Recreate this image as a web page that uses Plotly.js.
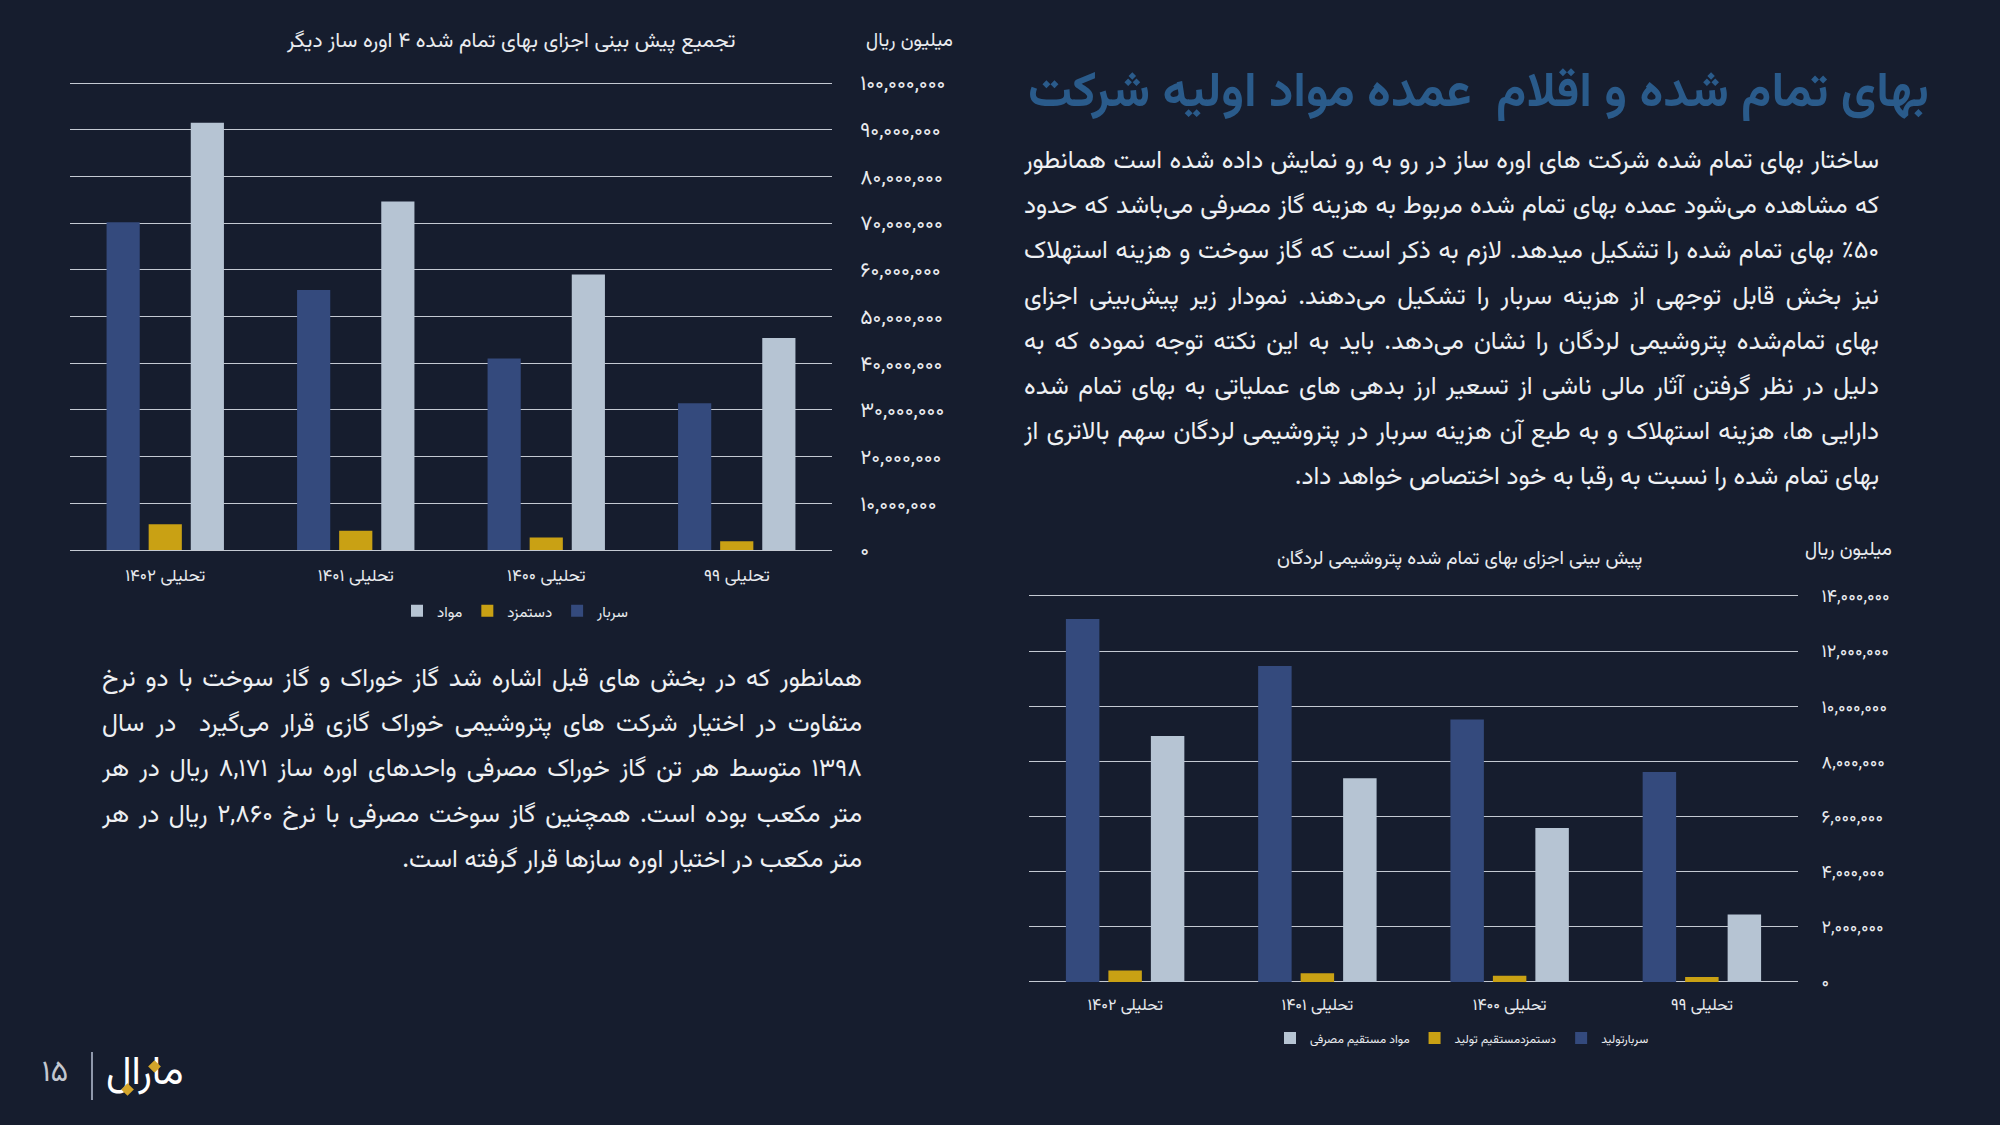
<!DOCTYPE html>
<html lang="fa">
<head>
<meta charset="utf-8">
<script src="https://cdn.plot.ly/plotly-3.0.1.min.js"></script>
<style>
  html, body { margin:0; padding:0; }
  body { width:2000px; height:1125px; overflow:hidden; background:#161d2e; position:relative;
         font-family: Vazirmatn, "Noto Sans Arabic", "DejaVu Sans", sans-serif; color:#eef0f3; }
  #plot { position:absolute; left:0; top:0; width:2000px; height:1125px; }
  .heading { position:absolute; right:71px; top:66px; font-size:49px; font-weight:bold; color:#2a5b8b;
             direction:rtl; white-space:nowrap; line-height:56px; }
  .para { position:absolute; direction:rtl; font-size:25px; color:#eef0f3; }
  .para div { height:45.2px; line-height:45.2px; white-space:nowrap; text-align:justify; text-align-last:justify; }
  .para div.last { text-align:right; text-align-last:right; }
  .pnum { position:absolute; left:28px; top:1055px; width:54px; text-align:center; font-size:30px; color:#c3c7cf; line-height:38px; }
  .vline { position:absolute; left:91px; top:1052px; width:2px; height:48px; background:#8f98ab; }
  .logo { position:absolute; left:106px; top:1048px; font-size:40px; color:#ffffff; line-height:52px; direction:rtl; white-space:nowrap; }
  .dia { position:absolute; width:9px; height:9px; background:#d4a52a; transform:rotate(45deg); }
</style>
</head>
<body>
<div id="plot"></div>

<div class="heading">بهای تمام شده و اقلام&nbsp; عمده مواد اولیه شرکت</div>

<div class="para" style="left:1024px; width:855px; top:139px;">
  <div>ساختار بهای تمام شده شرکت های اوره ساز در رو به رو نمایش داده شده است همانطور</div>
  <div>که مشاهده می‌شود عمده بهای تمام شده مربوط به هزینه گاز مصرفی می‌باشد که حدود</div>
  <div>٪۵۰ بهای تمام شده را تشکیل میدهد. لازم به ذکر است که گاز سوخت و هزینه استهلاک</div>
  <div>نیز بخش قابل توجهی از هزینه سربار را تشکیل می‌دهند. نمودار زیر پیش‌بینی اجزای</div>
  <div>بهای تمام‌شده پتروشیمی لردگان را نشان می‌دهد. باید به این نکته توجه نموده که به</div>
  <div>دلیل در نظر گرفتن آثار مالی ناشی از تسعیر ارز بدهی های عملیاتی به بهای تمام شده</div>
  <div>دارایی ها، هزینه استهلاک و به طبع آن هزینه سربار در پتروشیمی لردگان سهم بالاتری از</div>
  <div class="last">بهای تمام شده را نسبت به رقبا به خود اختصاص خواهد داد.</div>
</div>

<div class="para" style="left:102px; width:760px; top:657px;">
  <div>همانطور که در بخش های قبل اشاره شد گاز خوراک و گاز سوخت با دو نرخ</div>
  <div>متفاوت در اختیار شرکت های پتروشیمی خوراک گازی قرار می‌گیرد&nbsp; در سال</div>
  <div>۱۳۹۸ متوسط هر تن گاز خوراک مصرفی واحدهای اوره ساز ۸,۱۷۱ ریال در هر</div>
  <div>متر مکعب بوده است. همچنین گاز سوخت مصرفی با نرخ ۲,۸۶۰ ریال در هر</div>
  <div class="last">متر مکعب در اختیار اوره سازها قرار گرفته است.</div>
</div>

<div class="pnum">۱۵</div>
<div class="vline"></div>
<div class="logo">مارال</div>
<div class="dia" style="left:150px; top:1062px;"></div>
<div class="dia" style="left:123px; top:1085px;"></div>

<script>
// ---- data ----
const categories = ['تحلیلی ۱۴۰۲', 'تحلیلی ۱۴۰۱', 'تحلیلی ۱۴۰۰', 'تحلیلی ۹۹'];

const ureaSeriesNames = ['سربار', 'دستمزد', 'مواد'];
const ureaOverhead  = [70.2e6, 55.7e6, 41.0e6, 31.4e6];
const ureaLabor     = [5.5e6, 4.1e6, 2.7e6, 1.9e6];
const ureaMaterials = [91.5e6, 74.6e6, 59.0e6, 45.4e6];

const lordSeriesNames = ['سربارتولید', 'دستمزدمستقیم تولید', 'مواد مستقیم مصرفی'];
const lordOverhead  = [13.17e6, 11.46e6, 9.52e6, 7.62e6];
const lordLabor     = [0.42e6, 0.32e6, 0.23e6, 0.18e6];
const lordMaterials = [8.92e6, 7.39e6, 5.59e6, 2.45e6];

const ureaTickVals = [0, 10e6, 20e6, 30e6, 40e6, 50e6, 60e6, 70e6, 80e6, 90e6, 100e6];
const ureaTickText = ['۰', '۱۰,۰۰۰,۰۰۰', '۲۰,۰۰۰,۰۰۰', '۳۰,۰۰۰,۰۰۰', '۴۰,۰۰۰,۰۰۰', '۵۰,۰۰۰,۰۰۰',
                      '۶۰,۰۰۰,۰۰۰', '۷۰,۰۰۰,۰۰۰', '۸۰,۰۰۰,۰۰۰', '۹۰,۰۰۰,۰۰۰', '۱۰۰,۰۰۰,۰۰۰'];
const lordTickVals = [0, 2e6, 4e6, 6e6, 8e6, 10e6, 12e6, 14e6];
const lordTickText = ['۰', '۲,۰۰۰,۰۰۰', '۴,۰۰۰,۰۰۰', '۶,۰۰۰,۰۰۰', '۸,۰۰۰,۰۰۰', '۱۰,۰۰۰,۰۰۰', '۱۲,۰۰۰,۰۰۰', '۱۴,۰۰۰,۰۰۰'];

const chart1Title = 'تجمیع پیش بینی اجزای بهای تمام شده ۴ اوره ساز دیگر';
const chart2Title = 'پیش بینی اجزای بهای تمام شده پتروشیمی لردگان';
const unitLabel = 'میلیون ریال';

// ---- style ----
const FONT = 'Vazirmatn, "Noto Sans Arabic", "DejaVu Sans", sans-serif';
const C_OVER = '#344a7d', C_LAB = '#c9a114', C_MAT = '#b6c4d3';
const TXT = '#e9ebef', GRID = '#c4c9d2';
const W = 2000, H = 1125;
const px = v => v / W, py = v => 1 - v / H;

const traces = [
  {type:'bar', x:categories, y:ureaOverhead,  name:ureaSeriesNames[0], marker:{color:C_OVER}, xaxis:'x',  yaxis:'y',  legend:'legend'},
  {type:'bar', x:categories, y:ureaLabor,     name:ureaSeriesNames[1], marker:{color:C_LAB},  xaxis:'x',  yaxis:'y',  legend:'legend'},
  {type:'bar', x:categories, y:ureaMaterials, name:ureaSeriesNames[2], marker:{color:C_MAT},  xaxis:'x',  yaxis:'y',  legend:'legend'},
  {type:'bar', x:categories, y:lordOverhead,  name:lordSeriesNames[0], marker:{color:C_OVER}, xaxis:'x2', yaxis:'y2', legend:'legend2'},
  {type:'bar', x:categories, y:lordLabor,     name:lordSeriesNames[1], marker:{color:C_LAB},  xaxis:'x2', yaxis:'y2', legend:'legend2'},
  {type:'bar', x:categories, y:lordMaterials, name:lordSeriesNames[2], marker:{color:C_MAT},  xaxis:'x2', yaxis:'y2', legend:'legend2'}
].map(t => Object.assign(t, {hoverinfo:'skip'}));

const xCommon = {type:'category', showgrid:false, showline:false, zeroline:false, ticks:'outside',
                 tickcolor:'rgba(0,0,0,0)', fixedrange:true};
const yCommon = {side:'right', showline:false, showgrid:true, gridcolor:GRID, gridwidth:1,
                 zeroline:true, zerolinecolor:GRID, zerolinewidth:1, tickmode:'array',
                 ticks:'outside', tickcolor:'rgba(0,0,0,0)', fixedrange:true};

// ranges padded a hair above the top tick so the top gridline is drawn
const y1Max = 100.4e6, y2Max = 14.06e6;
const y1Top = 550 - 467 * (y1Max / 100e6);
const y2Top = 982 - 386 * (y2Max / 14e6);

const layout = {
  width:W, height:H, margin:{l:0, r:0, t:0, b:0},
  paper_bgcolor:'rgba(0,0,0,0)', plot_bgcolor:'rgba(0,0,0,0)',
  font:{family:FONT, color:TXT},
  barmode:'group', bargap:0.337, bargroupgap:0.212,
  showlegend:true,
  xaxis: Object.assign({}, xCommon, {domain:[px(70), px(832)], anchor:'y', ticklen:10, tickfont:{size:17, color:TXT}}),
  yaxis: Object.assign({}, yCommon, {domain:[py(550), py(y1Top)], anchor:'x', range:[0, y1Max],
           tickvals:ureaTickVals, ticktext:ureaTickText, ticklen:23, tickfont:{size:21, color:TXT}}),
  xaxis2: Object.assign({}, xCommon, {domain:[px(1029), px(1798)], anchor:'y2', ticklen:8, tickfont:{size:16, color:TXT}}),
  yaxis2: Object.assign({}, yCommon, {domain:[py(982), py(y2Top)], anchor:'x2', range:[0, y2Max],
           tickvals:lordTickVals, ticktext:lordTickText, ticklen:19, tickfont:{size:18, color:TXT}}),
  legend: {orientation:'h', traceorder:'reversed', x:px(516), xanchor:'center', y:py(611), yanchor:'middle',
           font:{size:15, color:TXT}, bgcolor:'rgba(0,0,0,0)', itemclick:false, itemdoubleclick:false},
  legend2: {orientation:'h', traceorder:'reversed', x:px(1462), xanchor:'center', y:py(1038), yanchor:'middle',
           font:{size:12, color:TXT}, bgcolor:'rgba(0,0,0,0)', itemclick:false, itemdoubleclick:false},
  annotations: [
    {text:chart1Title, xref:'paper', yref:'paper', x:px(510), y:py(41), xanchor:'center', yanchor:'middle',
     showarrow:false, font:{size:21, color:TXT}},
    {text:unitLabel, xref:'paper', yref:'paper', x:px(909), y:py(42), xanchor:'center', yanchor:'middle',
     showarrow:false, font:{size:19, color:TXT}},
    {text:chart2Title, xref:'paper', yref:'paper', x:px(1459), y:py(559), xanchor:'center', yanchor:'middle',
     showarrow:false, font:{size:19, color:TXT}},
    {text:unitLabel, xref:'paper', yref:'paper', x:px(1848), y:py(550), xanchor:'center', yanchor:'middle',
     showarrow:false, font:{size:19, color:TXT}}
  ]
};

Plotly.newPlot('plot', traces, layout, {displayModeBar:false, staticPlot:true});
</script>
</body>
</html>
